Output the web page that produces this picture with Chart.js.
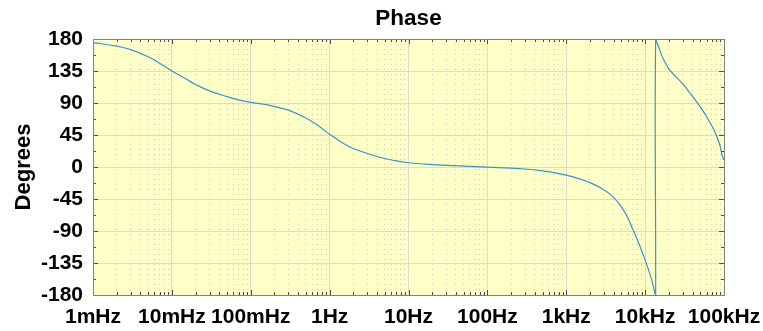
<!DOCTYPE html>
<html>
<head>
<meta charset="utf-8">
<script src="https://cdn.jsdelivr.net/npm/chart.js@4.4.1/dist/chart.umd.min.js"></script>
<style>
  html, body { margin: 0; padding: 0; background: #fff; }
  #wrap { position: relative; width: 763px; height: 331px; }
</style>
</head>
<body>
<div id="wrap"><canvas id="phase-chart"></canvas></div>
<script>
// frequency (Hz) and phase (deg); the wrap at ~13.6 kHz is a repeated x
const freqHz = [0.001, 0.002, 0.003, 0.005, 0.007, 0.01, 0.015, 0.02, 0.03, 0.05, 0.07, 0.1, 0.15, 0.2, 0.3, 0.5, 0.7,
    1, 1.5, 2, 3, 5, 7, 10, 20, 50, 100, 200, 300, 500, 700,
    1000, 1500, 2000, 3000, 4000, 5000, 6000, 7000, 8500, 10000, 12000, 13300, 13600, 13600,
    15000, 17000, 20000, 25000, 30000, 37000, 49000, 57000, 73000, 87500, 95500, 100000];
const phaseDeg = [175, 170, 165, 155, 146, 135, 124, 116, 107, 99, 94.5, 91, 88, 85, 80, 69, 59,
    46, 33, 26, 19, 12, 8.5, 6, 3.3, 1.2, -0.3, -1.5, -2.8, -5.5, -8,
    -11.5, -17, -22, -32, -43, -56, -71, -88, -110, -131, -157, -177, -180, 180,
    167, 152, 138, 126, 117, 104, 86, 75, 54, 33, 15, 10];

const decades = [1e-3, 1e-2, 1e-1, 1, 10, 100, 1e3, 1e4, 1e5];
const decadeLabels = ["1mHz", "10mHz", "100mHz", "1Hz", "10Hz", "100Hz", "1kHz", "10kHz", "100kHz"];
const degreeTicks = [-180, -135, -90, -45, 0, 45, 90, 135, 180];
const degreeMinor = [-157.5, -112.5, -67.5, -22.5, 22.5, 67.5, 112.5, 157.5];

const fontFamily = "'Liberation Sans', Arial, sans-serif";

const isDecade = (v) => Math.abs(Math.log10(v) - Math.round(Math.log10(v))) < 1e-9;

const xTickValues = [];
decades.forEach((d, i) => {
    if (i === decades.length - 1) {
        xTickValues.push(d);
        return;
    }
    for (let m = 1; m < 10; m++) xTickValues.push(d * m);
});

// yellow plot background, box outline and inward tick marks
const plotFrame = {
    id: "plotFrame",
    beforeDraw(chart) {
        const {ctx, chartArea: a} = chart;
        ctx.save();
        ctx.fillStyle = "#ffffc8";
        ctx.fillRect(a.left, a.top, a.right - a.left, a.bottom - a.top);
        ctx.restore();
    },
    afterDatasetsDraw(chart) {
        const {ctx, chartArea: a, scales} = chart;
        ctx.save();
        ctx.strokeStyle = "#4d4d4d";
        ctx.lineWidth = 1;
        ctx.beginPath();
        xTickValues.forEach((v) => {
            const px = Math.round(scales.x.getPixelForValue(v)) + 0.5;
            const len = isDecade(v) ? 5 : 3;
            ctx.moveTo(px, a.bottom);
            ctx.lineTo(px, a.bottom - len);
            ctx.moveTo(px, a.top);
            ctx.lineTo(px, a.top + len);
        });
        degreeTicks.concat(degreeMinor).forEach((v) => {
            const py = Math.round(scales.y.getPixelForValue(v)) + 0.5;
            const len = degreeTicks.includes(v) ? 5 : 3;
            ctx.moveTo(a.left, py);
            ctx.lineTo(a.left + len, py);
            ctx.moveTo(a.right, py);
            ctx.lineTo(a.right - len, py);
        });
        ctx.stroke();
        ctx.strokeStyle = "#808080";
        ctx.strokeRect(Math.round(a.left) + 0.5, Math.round(a.top) + 0.5,
            Math.round(a.right - a.left), Math.round(a.bottom - a.top));
        ctx.restore();
    },
};

const ctx = document.getElementById("phase-chart").getContext("2d");
const chart = new Chart(ctx, {
    type: "line",
    data: {
        datasets: [
            {
                label: "Phase",
                data: freqHz.map((f, i) => ({x: f, y: phaseDeg[i]})),
                borderColor: "#3a93cc",
                borderWidth: 1.2,
                pointRadius: 0,
                tension: 0.4,
                fill: false,
            },
        ],
    },
    options: {
        responsive: true,
        maintainAspectRatio: false,
        animation: false,
        events: [],
        layout: {
            padding: {left: 0, right: 39, top: 0, bottom: 0},
        },
        plugins: {
            legend: {display: false},
            tooltip: {enabled: false},
            title: {display: false},
        },
        scales: {
            x: {
                type: "logarithmic",
                min: 1e-3,
                max: 1e5,
                afterBuildTicks: (scale) => {
                    scale.ticks = xTickValues.map((v) => ({value: v}));
                },
                afterFit: (scale) => {
                    scale.height = 36;
                    scale.paddingLeft = 0;
                    scale.paddingRight = 0;
                },
                ticks: {
                    autoSkip: false,
                    maxRotation: 0,
                    padding: 10,
                    color: "#000",
                    font: {family: fontFamily, size: 21, weight: "bold"},
                    callback: (value) => {
                        const i = decades.findIndex((d) => Math.abs(d - value) / d < 1e-9);
                        return i >= 0 ? decadeLabels[i] : "";
                    },
                },
                grid: {
                    drawTicks: false,
                    color: (c) => {
                        if (!c.tick) return "rgba(0,0,0,0)";
                        const v = c.tick.value;
                        if (v <= 1e-3 || v >= 1e5) return "rgba(0,0,0,0)";
                        return isDecade(v) ? "#dcdccb" : "#cdcdc0";
                    },
                    lineWidth: 1,
                },
                border: {
                    display: false,
                    dash: (c) => (c.tick && !isDecade(c.tick.value) ? [1, 4] : []),
                },
            },
            // top axis only carries the title, so it is centred over the plot area
            top: {
                type: "logarithmic",
                position: "top",
                min: 1e-3,
                max: 1e5,
                afterFit: (scale) => {
                    scale.height = 39;
                    scale.paddingLeft = 0;
                    scale.paddingRight = 0;
                },
                ticks: {display: false},
                grid: {display: false},
                border: {display: false},
                title: {
                    display: true,
                    text: "Phase",
                    color: "#000",
                    font: {family: fontFamily, size: 22.5, weight: "bold"},
                    padding: {top: 5, bottom: 0},
                },
            },
            y: {
                type: "linear",
                min: -180,
                max: 180,
                afterBuildTicks: (scale) => {
                    scale.ticks = degreeTicks.map((v) => ({value: v}));
                },
                afterFit: (scale) => {
                    scale.width = 93;
                },
                ticks: {
                    padding: 10,
                    color: "#000",
                    font: {family: fontFamily, size: 21, weight: "bold"},
                },
                grid: {
                    drawTicks: false,
                    color: (c) => {
                        if (!c.tick) return "rgba(0,0,0,0)";
                        const v = c.tick.value;
                        return v === 180 || v === -180 ? "rgba(0,0,0,0)" : "#dcdccb";
                    },
                },
                border: {display: false},
                title: {
                    display: true,
                    text: "Degrees",
                    color: "#000",
                    font: {family: fontFamily, size: 22, weight: "bold"},
                    padding: {top: 11, bottom: 0},
                },
            },
        },
    },
    plugins: [plotFrame],
});
</script>
</body>
</html>
